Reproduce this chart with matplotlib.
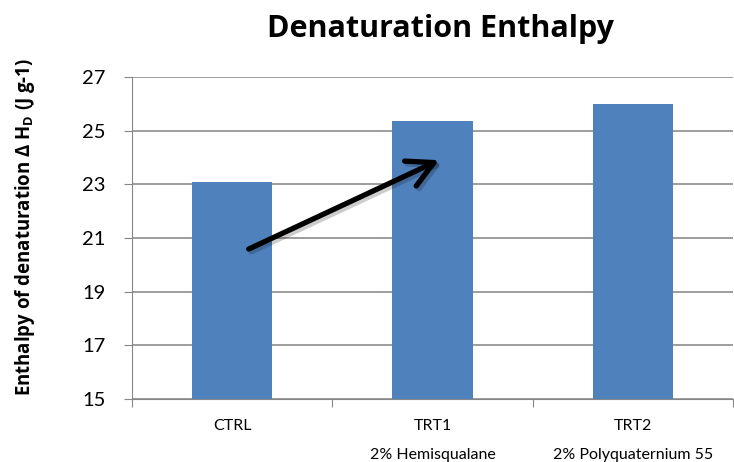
import numpy as np
import matplotlib
matplotlib.use("Agg")
import matplotlib.pyplot as plt
import matplotlib.patheffects as pe

categories = ["CTRL", "TRT1", "TRT2"]
subtitles = ["", "2% Hemisqualane", "2% Polyquaternium 55"]
values = [23.08, 25.35, 26.0]
yticks = [15, 17, 19, 21, 23, 25, 27]

plt.rcParams['font.family'] = ['Lato', 'DejaVu Sans']
plt.rcParams['mathtext.fontset'] = 'custom'
plt.rcParams['mathtext.bf'] = 'Open Sans:bold'
plt.rcParams['mathtext.rm'] = 'Open Sans:bold'

fig = plt.figure(figsize=(7.34, 4.62), dpi=100)
ax = fig.add_axes([0.1798, 0.136, 0.819, 0.697])

x = np.arange(len(categories))
ax.bar(x, values, width=0.4, color='#4f81bd', zorder=2)

ax.set_xlim(-0.5, 2.5)
ax.set_ylim(15, 27)
ax.set_yticks(yticks)
ax.tick_params(axis='y', labelsize=14.5, length=5.8, color='#868686', pad=13)
ax.yaxis.grid(True, color='#8c8c8c', linewidth=1.2, zorder=0)
ax.set_axisbelow(True)

# x ticks at category boundaries, labels centred under bars
ax.set_xticks([-0.5, 0.5, 1.5, 2.5])
ax.set_xticklabels([])
ax.tick_params(axis='x', length=5.8, color='#868686')
trans = ax.get_xaxis_transform()
for xi, lab, sub in zip(x, categories, subtitles):
    ax.text(xi, -0.084, lab, ha='center', va='center', fontsize=11.5, transform=trans)
    if sub:
        ax.text(xi, -0.174, sub, ha='center', va='center', fontsize=11.5, transform=trans)

for s in ['top', 'right']:
    ax.spines[s].set_visible(False)
for s in ['left', 'bottom']:
    ax.spines[s].set_color('#868686')

ax.set_ylabel(r"Enthalpy of denaturation Δ H$_\mathbf{D}$ (J g-1)",
              fontsize=13.4, fontweight='bold', family='Open Sans')
ax.yaxis.set_label_coords(-0.158, 0.534)
fig.text(0.60, 0.937, "Denaturation Enthalpy", ha='center', va='center',
         fontsize=22, fontweight='bold', family='Open Sans')

ax.annotate("", xy=(1.045, 23.95), xytext=(0.07, 20.55),
            arrowprops=dict(arrowstyle='->,head_length=0.85,head_width=0.45',
                            mutation_scale=22, lw=3.8, color='black',
                            path_effects=[pe.SimpleLineShadow(offset=(2, -2), alpha=0.2),
                                          pe.Normal()]),
            zorder=5)

fig.savefig("out.png", dpi=100)
